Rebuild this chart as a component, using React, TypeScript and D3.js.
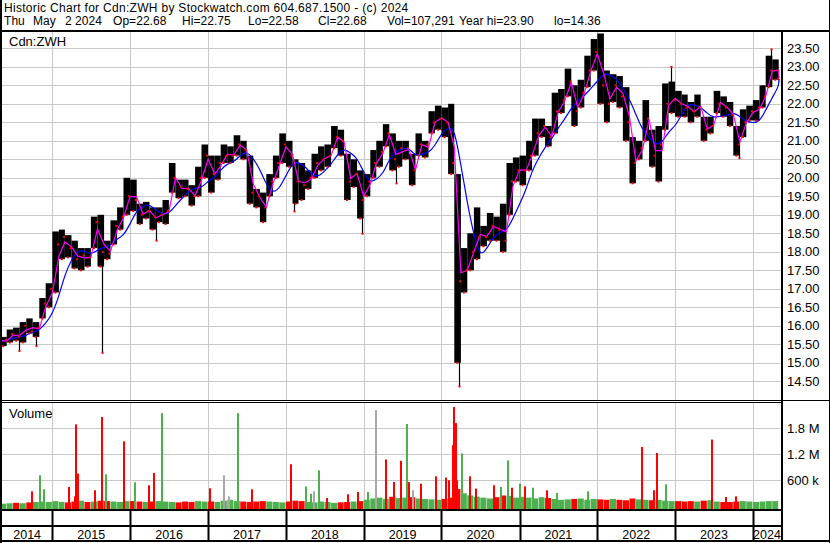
import React from "react";
import * as d3 from "d3";

const W = 830;
const H = 543;

// monthly price bars, May 2014 .. May 2024
const priceHi = [
  15.70, 15.90, 15.95, 16.10, 16.20, 16.10, 16.75, 17.15,
  18.55, 18.60, 18.45, 18.30, 18.10, 18.10, 18.95, 19.00, 18.30, 18.85, 19.20, 20.00,
  19.95, 19.30, 19.35, 19.20, 19.20, 19.40, 20.40, 19.95, 19.95, 19.80, 20.30, 20.90,
  20.60, 20.60, 20.90, 20.85, 21.15, 21.00, 20.60, 19.70, 19.60, 20.10, 20.60, 21.20,
  21.00, 20.50, 20.40, 20.20, 20.65, 20.85, 20.90, 21.40, 21.30, 20.65, 20.50, 20.20,
  20.10, 20.75, 21.00, 21.45, 21.20, 21.00, 21.00, 20.65, 21.20, 21.00, 21.80, 21.95,
  21.90, 22.00, 20.10, 18.10, 18.50, 19.20, 18.70, 19.05, 18.95, 19.30, 20.40, 20.55,
  20.60, 21.00, 21.60, 21.60, 21.40, 22.30, 22.40, 22.95, 22.50, 22.65, 23.30, 23.75,
  23.90, 22.90, 22.80, 22.75, 22.45, 21.10, 21.00, 22.10, 21.30, 21.40, 22.55, 22.60,
  22.35, 22.25, 22.05, 22.25, 21.65, 21.65, 22.35, 22.20, 22.05, 21.40, 21.85, 21.95,
  22.10, 22.50, 23.30, 23.20, 22.80,
];
const priceLo = [
  15.45, 15.55, 15.60, 15.55, 15.80, 15.70, 16.20, 16.50,
  16.90, 17.80, 17.85, 17.55, 17.50, 17.60, 18.10, 17.60, 17.80, 18.20, 18.60, 19.00,
  19.10, 18.75, 18.90, 18.60, 18.80, 18.75, 19.60, 19.45, 19.50, 19.25, 19.50, 20.00,
  19.60, 19.95, 20.40, 20.40, 20.60, 20.50, 19.30, 19.20, 18.80, 19.50, 20.00, 20.40,
  20.30, 19.30, 19.40, 19.70, 20.00, 20.20, 20.30, 20.80, 20.60, 19.40, 19.75, 18.90,
  19.50, 20.00, 20.30, 20.85, 20.20, 20.30, 20.50, 19.80, 20.60, 20.55, 21.20, 21.30,
  21.10, 20.10, 15.00, 16.90, 17.50, 17.80, 18.15, 18.30, 18.30, 18.00, 19.00, 19.90,
  19.80, 20.20, 20.60, 21.10, 20.85, 21.20, 21.75, 22.20, 21.40, 21.90, 22.45, 22.90,
  22.00, 21.50, 22.05, 21.90, 21.00, 19.85, 20.50, 21.00, 20.30, 19.90, 21.30, 21.75,
  21.65, 21.65, 21.50, 21.65, 21.00, 21.20, 21.75, 21.65, 21.40, 20.60, 21.10, 21.55,
  21.55, 21.90, 22.45, 22.65, 22.60,
];
const priceCl = [
  15.62, 15.78, 15.70, 16.00, 15.85, 15.95, 16.60, 17.00,
  18.20, 18.40, 18.10, 17.80, 17.90, 17.85, 18.80, 18.00, 17.95, 18.70, 18.95, 19.50,
  19.40, 19.00, 19.10, 18.95, 19.00, 19.10, 20.00, 19.75, 19.70, 19.50, 20.00, 20.60,
  20.10, 20.40, 20.60, 20.60, 20.90, 20.75, 19.60, 19.50, 19.20, 19.90, 20.40, 20.90,
  20.60, 19.90, 19.80, 20.00, 20.40, 20.50, 20.60, 21.10, 21.00, 19.90, 20.10, 19.40,
  19.90, 20.40, 20.70, 21.20, 20.50, 20.80, 20.80, 20.20, 20.90, 20.90, 21.50, 21.60,
  21.50, 20.40, 17.20, 17.50, 18.00, 18.40, 18.40, 18.70, 18.60, 18.30, 19.90, 20.20,
  20.20, 20.60, 21.20, 21.40, 21.10, 21.80, 22.10, 22.60, 21.80, 22.30, 22.90, 23.40,
  22.50, 22.00, 22.50, 22.20, 21.50, 20.40, 20.80, 21.60, 20.60, 20.90, 22.00, 22.10,
  22.00, 21.90, 21.80, 21.90, 21.30, 21.40, 22.00, 21.90, 21.70, 20.90, 21.50, 21.80,
  21.90, 22.20, 22.90, 22.90, 22.68,
];
// typical monthly volume, thousands
const volBase = [
  60, 70, 80, 70, 90, 100, 110, 100,
  120, 100, 90, 110, 130, 100, 110, 130, 120, 110, 100, 120,
  120, 110, 100, 110, 120, 110, 100, 90, 110, 100, 120, 110,
  110, 100, 130, 150, 120, 110, 100, 110, 120, 110, 100, 90,
  110, 130, 120, 100, 90, 110, 100, 80, 90, 100, 110, 120,
  150, 180, 200, 170, 220, 190, 200, 210, 180, 170, 160, 150,
  170, 200, 400, 300, 250, 220, 200, 180, 210, 250, 240, 200,
  220, 200, 180, 210, 190, 170, 150, 160, 170, 180, 150, 170,
  160, 150, 170, 150, 140, 180, 160, 150, 140, 150, 130, 120,
  120, 110, 120, 110, 130, 140, 110, 100, 100, 110, 120, 110,
  100, 110, 120, 120, 100,
];

// single-day extremes outside the monthly range
const priceSpikes = [
  { date: "2014-07-31", v: 15.32 },
  { date: "2014-10-15", v: 15.45 },
  { date: "2015-08-24", v: 15.27 },
  { date: "2016-05-02", v: 18.3 },
  { date: "2018-02-08", v: 19.09 },
  { date: "2018-12-24", v: 18.49 },
  { date: "2019-06-03", v: 19.85 },
  { date: "2020-03-23", v: 14.36 },
  { date: "2022-12-13", v: 23.0 },
  { date: "2023-10-27", v: 20.53 },
  { date: "2024-03-28", v: 23.47 },
];

const volSpikes = [
  { date: "2014-09-28", v: 346e3, c: "r" },
  { date: "2014-11-06", v: 715e3, c: "g" },
  { date: "2014-11-23", v: 392e3, c: "g" },
  { date: "2015-03-20", v: 446e3, c: "r" },
  { date: "2015-04-16", v: 230e3, c: "r" },
  { date: "2015-04-24", v: 1.89e6, c: "r" },
  { date: "2015-05-02", v: 754e3, c: "r" },
  { date: "2015-07-19", v: 370e3, c: "r" },
  { date: "2015-08-24", v: 2.06e6, c: "r" },
  { date: "2015-09-12", v: 738e3, c: "g" },
  { date: "2015-12-02", v: 1.5e6, c: "r" },
  { date: "2016-01-26", v: 554e3, c: "g" },
  { date: "2016-03-29", v: 485e3, c: "r" },
  { date: "2016-04-21", v: 769e3, c: "r" },
  { date: "2016-05-29", v: 2.15e6, c: "g" },
  { date: "2017-01-10", v: 415e3, c: "r" },
  { date: "2017-03-17", v: 715e3, c: "n" },
  { date: "2017-04-10", v: 230e3, c: "n" },
  { date: "2017-05-19", v: 2.15e6, c: "g" },
  { date: "2017-07-24", v: 392e3, c: "r" },
  { date: "2018-01-24", v: 970e3, c: "r" },
  { date: "2018-04-05", v: 460e3, c: "g" },
  { date: "2018-04-27", v: 290e3, c: "g" },
  { date: "2018-05-12", v: 346e3, c: "n" },
  { date: "2018-06-05", v: 830e3, c: "g" },
  { date: "2018-07-11", v: 190e3, c: "r" },
  { date: "2018-10-20", v: 277e3, c: "r" },
  { date: "2018-12-03", v: 330e3, c: "r" },
  { date: "2019-01-19", v: 330e3, c: "g" },
  { date: "2019-02-27", v: 2.22e6, c: "n" },
  { date: "2019-04-15", v: 1.08e6, c: "r" },
  { date: "2019-05-24", v: 560e3, c: "r" },
  { date: "2019-06-23", v: 1.05e6, c: "r" },
  { date: "2019-07-24", v: 1.9e6, c: "g" },
  { date: "2019-08-01", v: 560e3, c: "r" },
  { date: "2019-08-19", v: 370e3, c: "n" },
  { date: "2019-09-29", v: 523e3, c: "r" },
  { date: "2019-12-08", v: 692e3, c: "r" },
  { date: "2020-01-21", v: 662e3, c: "r" },
  { date: "2020-02-06", v: 600e3, c: "r" },
  { date: "2020-02-22", v: 1.41e6, c: "r" },
  { date: "2020-02-28", v: 2.29e6, c: "r" },
  { date: "2020-03-07", v: 1.92e6, c: "r" },
  { date: "2020-03-13", v: 600e3, c: "r" },
  { date: "2020-04-04", v: 1.22e6, c: "g" },
  { date: "2020-05-13", v: 692e3, c: "r" },
  { date: "2020-06-13", v: 408e3, c: "r" },
  { date: "2020-09-03", v: 485e3, c: "r" },
  { date: "2020-10-06", v: 446e3, c: "g" },
  { date: "2020-11-06", v: 1.06e6, c: "g" },
  { date: "2020-11-25", v: 430e3, c: "r" },
  { date: "2021-01-04", v: 523e3, c: "g" },
  { date: "2021-01-27", v: 460e3, c: "r" },
  { date: "2021-03-04", v: 430e3, c: "g" },
  { date: "2021-05-08", v: 370e3, c: "r" },
  { date: "2021-06-28", v: 308e3, c: "g" },
  { date: "2021-11-19", v: 346e3, c: "g" },
  { date: "2022-07-28", v: 1.37e6, c: "r" },
  { date: "2022-09-25", v: 370e3, c: "r" },
  { date: "2022-10-06", v: 1.23e6, c: "r" },
  { date: "2022-11-17", v: 508e3, c: "g" },
  { date: "2023-06-24", v: 1.54e6, c: "r" },
  { date: "2023-08-30", v: 215e3, c: "r" },
  { date: "2023-10-16", v: 230e3, c: "r" },
];

const priceTicks = [23.5, 23, 22.5, 22, 21.5, 21, 20.5, 20, 19.5, 19, 18.5, 18, 17.5, 17, 16.5, 16, 15.5, 15, 14.5];
const priceLabels = ["23.50", "23.00", "22.50", "22.00", "21.50", "21.00", "20.50", "20.00", "19.50", "19.00", "18.50", "18.00", "17.50", "17.00", "16.50", "16.00", "15.50", "15.00", "14.50"];
const volTicks = [1.8e6, 1.2e6, 600e3];
const volLabels = ["1.8 M", "1.2 M", "600 k"];
const years = [2014, 2015, 2016, 2017, 2018, 2019, 2020, 2021, 2022, 2023, 2024];

const title1 = "Historic Chart for Cdn:ZWH by Stockwatch.com 604.687.1500 - (c) 2024";
// second header line, field by field
const title2 = ["Thu", "May", "2 2024", "Op=22.68", "Hi=22.75", "Lo=22.58", "Cl=22.68", "Vol=107,291", "Year hi=23.90", "lo=14.36"];
const title2X = [4, 33, 65, 113, 182, 248, 318, 387, 459, 554];

const FONT = "'Liberation Sans', Arial, sans-serif";
const GRID = "#c8c8c8";
const GREEN = "#4cb04c";
const RED = "#ff0000";
const GRAY = "#a8a8a8";

export default function App() {
  const PL = 2, PR = 781, PT = 32, PB = 400, VT = 403, VB = 509;

  const x = d3.scaleUtc()
    .domain([new Date(Date.UTC(2015, 0, 1)), new Date(Date.UTC(2024, 0, 1))])
    .range([52.3, 752.9]);
  const y = d3.scaleLinear().domain([14.5, 23.5]).range([381.3, 48.3]);
  const yv = d3.scaleLinear().domain([0, 1.8e6]).range([506.3, 428.3]);

  const start = new Date(Date.UTC(2014, 4, 1));
  const dataEnd = new Date(Date.UTC(2024, 4, 3));
  const months = priceHi.map((hi, i) => {
    const d0 = d3.utcMonth.offset(start, i);
    let d1 = d3.utcMonth.offset(start, i + 1);
    if (d1 > dataEnd) d1 = dataEnd;
    const lo = priceLo[i];
    const cl = priceCl[i];
    return {
      d0, d1, hi, lo, cl,
      avg: (hi + lo + cl) / 3,
      vol: volBase[i] * 1000,
      up: i === 0 || cl >= priceCl[i - 1],
    };
  });

  // short average ~ month mean, long average ~ 4 month mean
  const pinkPts: [Date, number][] = [[start, months[0].avg]];
  const bluePts: [Date, number][] = [[start, months[0].avg]];
  months.forEach((m, i) => {
    pinkPts.push([m.d1, m.avg]);
    const win = months.slice(Math.max(0, i - 3), i + 1);
    bluePts.push([m.d1, d3.mean(win, (w) => w.avg) as number]);
  });
  const line = d3.line<[Date, number]>().x((d) => x(d[0])).y((d) => y(d[1]));
  const smooth = d3.line<[Date, number]>().x((d) => x(d[0])).y((d) => y(d[1])).curve(d3.curveBasis);

  const parse = (s: string) => new Date(s + "T00:00:00Z");
  const monthOf = (d: Date) => months.find((m) => d >= m.d0 && d < m.d1) || months[months.length - 1];
  const volColor = (c: string) => (c === "g" ? GREEN : c === "r" ? RED : GRAY);

  const yearX = years.map((yr) => x(new Date(Date.UTC(yr, 0, 1))));
  const yearBounds = years.slice(1).map((yr) => x(new Date(Date.UTC(yr, 0, 1))));

  return (
    <svg width={W} height={H} style={{ position: "absolute", left: 0, top: 0, background: "#fff" }} fontFamily={FONT}>
      <defs>
        <clipPath id="pclip"><rect x={PL} y={PT} width={PR - PL} height={PB - PT} /></clipPath>
        <clipPath id="vclip"><rect x={PL} y={VT} width={PR - PL} height={VB - VT} /></clipPath>
      </defs>
      <rect x={0} y={0} width={W} height={H} fill="#fff" />

      {/* header */}
      <text x={4} y={12} fontSize={12} letterSpacing={0.3}>{title1}</text>
      {title2.map((t, i) => (
        <text key={"h" + i} x={title2X[i]} y={25} fontSize={12} letterSpacing={0.05}>{t}</text>
      ))}

      {/* grid */}
      {priceTicks.map((t) => (
        <line key={"pg" + t} x1={PL} x2={PR} y1={Math.round(y(t)) + 0.5} y2={Math.round(y(t)) + 0.5} stroke={GRID} />
      ))}
      {volTicks.map((t) => (
        <line key={"vg" + t} x1={PL} x2={PR} y1={Math.round(yv(t)) + 0.5} y2={Math.round(yv(t)) + 0.5} stroke={GRID} />
      ))}
      {yearBounds.map((bx, i) => (
        <g key={"yg" + i}>
          <line x1={Math.round(bx) + 0.5} x2={Math.round(bx) + 0.5} y1={PT} y2={PB} stroke={GRID} />
          <line x1={Math.round(bx) + 0.5} x2={Math.round(bx) + 0.5} y1={VT} y2={VB} stroke={GRID} />
        </g>
      ))}

      {/* price bars */}
      <g clipPath="url(#pclip)">
        {months.map((m, i) => (
          <rect key={"b" + i} x={x(m.d0)} y={y(m.hi)} width={x(m.d1) - x(m.d0)} height={y(m.lo) - y(m.hi)} fill="#000" />
        ))}
        {priceSpikes.map((s, i) => {
          const d = parse(s.date);
          const m = monthOf(d);
          const xx = Math.round(x(d)) + 0.5;
          return <line key={"s" + i} x1={xx} x2={xx} y1={y(s.v)} y2={y((m.hi + m.lo) / 2)} stroke="#000" strokeWidth={1.2} />;
        })}
        <path d={smooth(bluePts) || ""} fill="none" stroke="#0000ff" strokeWidth={1.2} />
        <path d={line(pinkPts) || ""} fill="none" stroke="#ff00ff" strokeWidth={1.2} />
        {months.map((m, i) => (
          <g key={"r" + i}>
            <rect x={x(m.d1) - 2} y={y(m.cl) - 1} width={2} height={2} fill={RED} />
            <rect x={x(m.d0) + 2} y={y(m.lo) - 1} width={2} height={2} fill={RED} />
          </g>
        ))}
        {priceSpikes.map((s, i) => (
          <rect key={"sd" + i} x={Math.round(x(parse(s.date))) - 0.5} y={y(s.v) - 1} width={2} height={2} fill={RED} />
        ))}
      </g>

      {/* volume */}
      <g clipPath="url(#vclip)">
        {months.map((m, i) => (
          <rect key={"v" + i} x={x(m.d0)} y={yv(m.vol)} width={x(m.d1) - x(m.d0) - 0.5} height={VB - yv(m.vol)} fill={m.up ? GREEN : RED} />
        ))}
        {volSpikes.map((s, i) => (
          <rect key={"vs" + i} x={Math.round(x(parse(s.date))) - 1} y={yv(s.v)} width={2} height={VB - yv(s.v)} fill={volColor(s.c)} />
        ))}
      </g>

      <text x={9} y={46} fontSize={13}>Cdn:ZWH</text>
      <text x={9} y={418} fontSize={13}>Volume</text>

      {/* frame */}
      <rect x={0} y={30} width={W} height={2} fill="#000" />
      <rect x={0} y={0} width={2} height={H} fill="#000" />
      <rect x={829} y={0} width={1} height={H} fill="#000" />
      <rect x={781} y={32} width={2} height={510} fill="#000" />
      <rect x={0} y={400} width={W} height={1} fill="#000" />
      <rect x={0} y={402} width={782} height={1} fill="#000" />
      <rect x={0} y={509} width={782} height={2} fill="#000" />
      <rect x={0} y={525} width={782} height={2} fill="#000" />
      <rect x={0} y={540} width={W} height={2} fill="#000" />
      {yearBounds.map((bx, i) => (
        <rect key={"yt" + i} x={Math.round(bx) - 0.5} y={510} width={2} height={31} fill="#000" />
      ))}

      {/* year labels */}
      {years.map((yr, i) => {
        const a = Math.max(PL, yearX[i]);
        const b = i < years.length - 1 ? yearX[i + 1] : PR;
        return (
          <text key={"yl" + yr} x={(a + Math.min(b, PR)) / 2} y={539} fontSize={12.5} textAnchor="middle">{yr}</text>
        );
      })}

      {/* right axis */}
      {priceLabels.map((l, i) => (
        <text key={"pl" + l} x={787} y={y(priceTicks[i]) + 4.5} fontSize={13}>{l}</text>
      ))}
      {volLabels.map((l, i) => (
        <text key={"vl" + l} x={787} y={yv(volTicks[i]) + 4.5} fontSize={13}>{l}</text>
      ))}
    </svg>
  );
}
